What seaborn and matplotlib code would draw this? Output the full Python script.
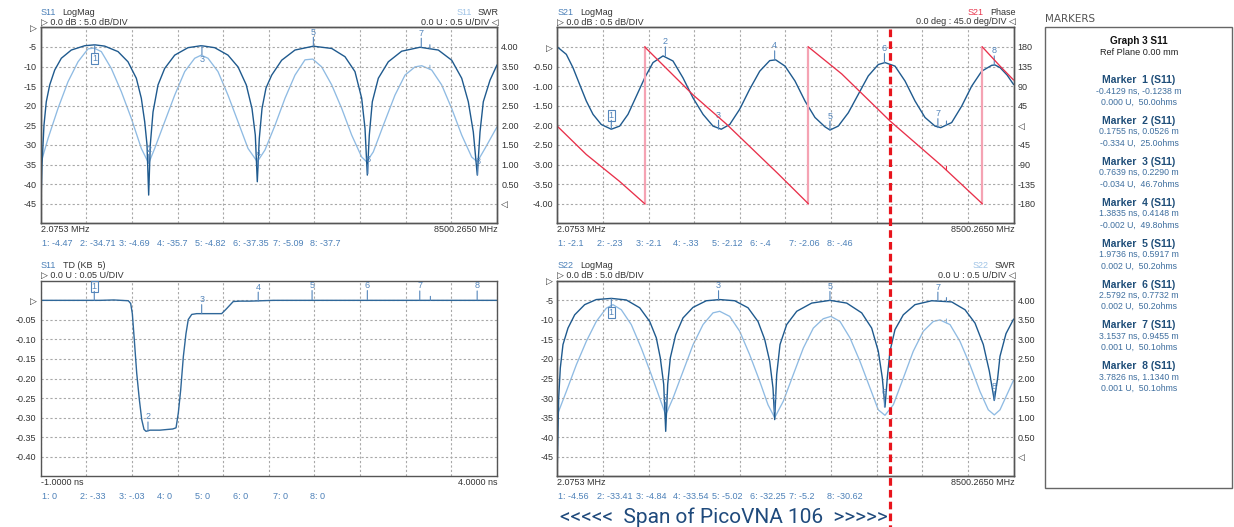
import matplotlib
matplotlib.use("Agg")
import matplotlib.pyplot as plt
import seaborn as sns
import numpy as np
from matplotlib import font_manager as fm
from matplotlib.lines import Line2D
from matplotlib.patches import Rectangle

# ------------------------------------------------------------------ data
F_START_MHZ = 2.0753
F_STOP_MHZ = 8500.265
T_START_NS = -1.0
T_STOP_NS = 4.0

# S11 LogMag (dB) – graph 1, dark trace
s11_logmag_f = [2, 26, 63, 106, 170, 263, 386, 572, 822, 1008, 1194, 1442, 1628, 1783, 1876,
                1939, 1982, 2013, 2043, 2094, 2187, 2311, 2498, 2745, 2993, 3243, 3490, 3677,
                3831, 3937, 3999, 4036, 4073, 4124, 4198, 4304, 4490, 4738, 5079, 5422, 5669,
                5855, 5980, 6042, 6085, 6122, 6178, 6290, 6476, 6725, 7066, 7407, 7657, 7843,
                7966, 8059, 8133, 8184, 8245, 8370, 8500]
s11_logmag_db = [-47.6, -35.2, -25.0, -19.0, -14.7, -10.9, -7.9, -5.8, -4.7, -4.47, -4.8, -6.2,
                 -8.8, -13.0, -18.1, -24.1, -30.0, -42.8, -30.0, -21.6, -14.7, -10.5, -7.1, -5.2,
                 -4.69, -5.2, -7.1, -10.1, -14.7, -20.7, -27.5, -39.4, -28.4, -20.7, -15.5, -12.2,
                 -8.4, -5.8, -4.82, -5.4, -7.5, -11.3, -18.1, -25.8, -37.7, -27.5, -19.0, -13.0,
                 -8.8, -6.1, -5.09, -5.8, -8.4, -13.0, -19.0, -26.7, -37.7, -26.7, -19.0, -13.5,
                 -9.6]
# S11 SWR – graph 1, light trace
s11_swr_f = [2, 138, 324, 510, 697, 883, 995, 1131, 1317, 1503, 1689, 1876, 2013, 2125, 2311,
             2498, 2684, 2870, 2993, 3118, 3304, 3490, 3677, 3863, 4036, 4179, 4366, 4552, 4738,
             4924, 5068, 5235, 5422, 5608, 5794, 5980, 6073, 6196, 6383, 6600, 6787, 6973, 7098,
             7284, 7470, 7656, 7843, 8029, 8133, 8277, 8500]
s11_swr = [1.02, 1.66, 2.43, 3.11, 3.62, 3.95, 3.97, 3.88, 3.45, 2.86, 2.18, 1.41, 1.03, 1.41,
           2.09, 2.77, 3.37, 3.71, 3.79, 3.71, 3.37, 2.77, 2.09, 1.41, 1.07, 1.37, 2.0, 2.69,
           3.28, 3.67, 3.69, 3.49, 3.03, 2.43, 1.75, 1.19, 1.07, 1.32, 2.0, 2.77, 3.28, 3.49,
           3.52, 3.41, 3.03, 2.43, 1.75, 1.19, 1.07, 1.41, 1.96]

# S21 LogMag (dB) – graph 2
s21_logmag_f = [2, 170, 294, 419, 542, 667, 821, 1008, 1164, 1319, 1473, 1630, 1784, 1971, 2157,
                2343, 2529, 2716, 2902, 3056, 3213, 3399, 3585, 3772, 3958, 4069, 4243, 4429,
                4615, 4801, 4988, 5081, 5235, 5422, 5608, 5794, 5980, 6105, 6291, 6478, 6664,
                6850, 7036, 7142, 7347, 7534, 7720, 7906, 8092, 8154, 8250, 8380, 8500]
s21_logmag_db = [0.0, -0.19, -0.53, -0.96, -1.38, -1.72, -1.98, -2.1, -2.02, -1.72, -1.26, -0.79,
                 -0.40, -0.23, -0.36, -0.79, -1.30, -1.72, -2.02, -2.1, -1.98, -1.59, -1.08,
                 -0.62, -0.35, -0.33, -0.49, -0.87, -1.38, -1.80, -2.04, -2.12, -2.02, -1.68,
                 -1.21, -0.74, -0.45, -0.40, -0.49, -0.87, -1.38, -1.80, -2.02, -2.06, -1.93,
                 -1.51, -1.0, -0.62, -0.47, -0.46, -0.53, -0.72, -0.96]
# S21 Phase (deg, wrapped) – graph 2
s21_phase_f = [2, 542, 853, 1164, 1630, 1630, 2529, 3150, 4112, 4677, 4677, 5299, 6198, 7161,
               7917, 7917, 8247, 8500]
s21_phase_deg = [-2, -67, -98, -129, -180, 180, 70, 3, -111, -180, 180, 118, 10, -93, -180, 180,
                 136, 104]

# S11 time domain (U) – graph 3
s11_td_ns = [-1.0, -0.6, -0.35, -0.2, -0.04, -0.014, 0.004, 0.026, 0.052, 0.081, 0.107, 0.132,
             0.154, 0.198, 0.307, 0.398, 0.446, 0.483, 0.508, 0.534, 0.563, 0.592, 0.617, 0.655,
             0.709, 0.764, 0.983, 1.038, 1.110, 1.184, 1.293, 1.55, 4.0]
s11_td_u = [0.0, 0.0, 0.0, 0.001, -0.001, -0.008, -0.034, -0.102, -0.186, -0.254, -0.305, -0.330,
            -0.335, -0.332, -0.332, -0.330, -0.329, -0.326, -0.288, -0.229, -0.144, -0.085,
            -0.049, -0.036, -0.034, -0.034, -0.034, -0.021, -0.003, -0.002, -0.002, 0.0, 0.0]

# S22 LogMag (dB) – graph 4, dark trace
s22_logmag_f = [2, 28, 58, 108, 201, 326, 512, 728, 1008, 1287, 1537, 1723, 1846, 1920, 1984,
                2021, 2058, 2107, 2207, 2343, 2529, 2777, 3027, 3306, 3554, 3740, 3865, 3958,
                4019, 4051, 4088, 4150, 4274, 4461, 4740, 5081, 5392, 5671, 5857, 5980, 6055,
                6105, 6148, 6198, 6291, 6446, 6664, 6975, 7347, 7595, 7781, 7936, 8048, 8141,
                8204, 8247, 8359, 8500]
s22_logmag_db = [-47.0, -29.9, -22.3, -16.3, -12.1, -8.7, -6.1, -4.8, -4.5, -4.9, -6.9, -10.4,
                 -14.6, -19.7, -26.5, -38.5, -26.5, -19.7, -13.8, -9.5, -6.8, -5.1, -4.8, -5.1,
                 -6.9, -10.4, -15.0, -20.6, -27.4, -35.5, -24.0, -16.3, -11.2, -7.8, -5.7, -5.0,
                 -5.7, -8.2, -12.1, -18.0, -24.8, -32.3, -24.8, -18.0, -12.5, -8.7, -6.1, -5.1,
                 -5.4, -7.4, -10.8, -16.3, -23.1, -30.6, -24.8, -19.3, -13.5, -9.8]
# S22 SWR – graph 4, light trace
s22_swr_f = [2, 170, 356, 542, 728, 915, 1039, 1194, 1380, 1566, 1753, 1909, 2021, 2157, 2343,
             2529, 2716, 2902, 3027, 3213, 3399, 3585, 3772, 3926, 4051, 4211, 4397, 4584, 4770,
             4956, 5099, 5267, 5453, 5639, 5826, 5980, 6105, 6260, 6446, 6632, 6818, 7005, 7129,
             7316, 7502, 7688, 7874, 8029, 8141, 8247, 8500]
s22_swr = [1.07, 1.67, 2.35, 2.95, 3.46, 3.80, 3.89, 3.76, 3.38, 2.78, 2.10, 1.50, 1.07, 1.50,
           2.18, 2.86, 3.38, 3.68, 3.72, 3.59, 3.21, 2.61, 1.93, 1.33, 1.0, 1.42, 2.10, 2.78,
           3.29, 3.53, 3.59, 3.46, 3.04, 2.44, 1.76, 1.20, 1.06, 1.33, 2.01, 2.70, 3.21, 3.46,
           3.50, 3.38, 2.95, 2.35, 1.67, 1.20, 1.07, 1.20, 1.96]

# markers
marker_mhz = [1008, 2015, 3005, 4050, 5080, 6095, 7090, 8140]
secondary_marker_mhz = 7250
secondary_marker_ns = 3.27
s11_marker_db = [-4.47, -34.71, -4.69, -35.7, -4.82, -37.35, -5.09, -37.7]
s21_marker_db = [-2.1, -0.23, -2.1, -0.33, -2.12, -0.4, -2.06, -0.46]
s22_marker_db = [-4.56, -33.41, -4.84, -33.54, -5.02, -32.25, -5.2, -30.62]
marker_ns = [-0.4129, 0.1755, 0.7639, 1.3835, 1.9736, 2.5792, 3.1537, 3.7826]
marker_m = [-0.1238, 0.0526, 0.2290, 0.4148, 0.5917, 0.7732, 0.9455, 1.1340]
marker_u = [0.000, -0.334, -0.034, -0.002, 0.002, 0.002, 0.001, 0.001]
marker_ohms = [50.0, 25.0, 46.7, 49.8, 50.2, 50.2, 50.1, 50.1]

span_end_mhz = 6198  # red dashed line: end of PicoVNA 106 span

# ------------------------------------------------------------------ style
sns.set_style("white")
names = {f.name for f in fm.fontManager.ttflist}
NARROW = "Liberation Sans Narrow" in names
UI_FAMILY = ["Liberation Sans Narrow" if NARROW else "Liberation Sans", "DejaVu Sans"]
UI_SIZE = 7.0 if NARROW else 6.5
plt.rcParams["font.family"] = UI_FAMILY
plt.rcParams["lines.scale_dashes"] = False

DARK = "#1f5a8e"
LIGHT = "#8fbbe3"
TD_COL = "#2f6799"
RED = "#e8304a"
PINK = "#f5a3b3"
GRID = "#a8a8a8"
FRAME = "#555555"
TEXT_DARK = "#333333"
LABEL_BLUE = "#4c80b8"
LIGHT_LABEL = "#9fc3e6"
RED_LABEL = "#e8384f"
MARK_COL = "#5586bb"

W, H = 1234, 527
fig = plt.figure(figsize=(W / 100, H / 100), dpi=100)
fig.patch.set_facecolor("white")
renderer = fig.canvas.get_renderer()

BOX1 = (40.7, 27.3, 497.0, 223.3)
BOX2 = (557.3, 27.3, 1013.6, 223.3)
BOX3 = (40.7, 280.8, 497.0, 476.3)
BOX4 = (557.3, 280.8, 1013.6, 476.3)


def rect(box):
    l, t, r, b = box
    return [l / W, 1 - b / H, (r - l) / W, (b - t) / H]


def style_ax(ax, xlim, xticks, ylim, yticks, ylabels, grid=True):
    ax.set_xlim(xlim)
    ax.set_ylim(ylim)
    ax.set_xticks(xticks)
    ax.set_xticklabels([])
    ax.set_yticks(yticks)
    ax.set_yticklabels(ylabels)
    ax.tick_params(axis="both", length=0, pad=3, labelsize=UI_SIZE, colors=TEXT_DARK)
    if grid:
        ax.grid(True, color=GRID, linestyle=(0, (1.6, 1.6)), linewidth=0.8)
    else:
        ax.grid(False)
    for s in ax.spines.values():
        s.set_visible(True)
        s.set_color(FRAME)
        s.set_linewidth(1.0)
    ax.set_xlabel("")
    ax.set_ylabel("")


def line(ax, x, y, color, lw=1.0, z=2):
    sns.lineplot(x=list(x), y=list(y), ax=ax, color=color, linewidth=lw,
                 estimator=None, sort=False, zorder=z)
    ax.set_xlabel("")
    ax.set_ylabel("")


def mark(ax, xs, ys, sides, color=MARK_COL):
    for i, (x, y, s) in enumerate(zip(xs, ys, sides)):
        sg = 1 if s == "u" else -1
        ax.annotate("", xy=(x, y), xytext=(0, 9 * sg), textcoords="offset pixels",
                    arrowprops=dict(arrowstyle="-", color=color, lw=0.8, shrinkA=0, shrinkB=0),
                    annotation_clip=False, zorder=5)
        kw = {}
        if i == 0:
            kw["bbox"] = dict(boxstyle="square,pad=0.1", fc="none", ec=color, lw=0.8)
        ax.annotate(str(i + 1), xy=(x, y), xytext=(0, 14 * sg), textcoords="offset pixels",
                    ha="center", va="center", fontsize=UI_SIZE, color=color,
                    annotation_clip=False, zorder=5, **kw)


def small_tick(ax, xs, ys, x0, color):
    y0 = float(np.interp(x0, xs, ys))
    ax.annotate("", xy=(x0, y0), xytext=(0, 4), textcoords="offset pixels",
                arrowprops=dict(arrowstyle="-", color=color, lw=0.8, shrinkA=0, shrinkB=0),
                zorder=5)


def text_px(x, y, s, color=TEXT_DARK, ha="left", size=None, **kw):
    return fig.text(x / W, 1 - y / H, s, ha=ha, va="center",
                    fontsize=UI_SIZE if size is None else size, color=color, **kw)


def chain_left(x, y, parts, gap=6.5):
    for s, c in parts:
        t = text_px(x, y, s, c)
        x = t.get_window_extent(renderer).x1 + gap


def chain_right(x, y, parts, gap=6.5):
    for s, c in reversed(parts):
        t = text_px(x, y, s, c, ha="right")
        x = t.get_window_extent(renderer).x0 - gap


def fmt(v):
    if round(v, 2) == 0:
        return "0"
    s = f"{v:.2f}".rstrip("0").rstrip(".")
    s = s.replace("-0.", "-.")
    if s.startswith("0."):
        s = s[1:]
    return s


READOUT_DX = [1, 39.3, 78.3, 116, 154.3, 192.6, 232, 269.3]


def panel_texts(box, left1, left2, right1, right2, x_left, x_right, readouts):
    l, t, r, b = box
    chain_left(l, t - 14.8, left1)
    text_px(l, t - 5.4, left2)
    if right1:
        chain_right(r + 2, t - 14.8, right1)
        text_px(r + 2, t - 5.4, right2, ha="right")
    text_px(l, b + 5.8, x_left)
    text_px(r + 1, b + 5.8, x_right, ha="right")
    for i, v in enumerate(readouts):
        text_px(l + READOUT_DX[i], b + 20, f"{i + 1}: {fmt(v)}", LABEL_BLUE)


f_ticks = np.linspace(F_START_MHZ, F_STOP_MHZ, 11)
f_lim = (F_START_MHZ, F_STOP_MHZ)
db_ticks = list(range(-45, 1, 5))
db_labels = [str(v) for v in db_ticks[:-1]] + ["\u25b7"]
swr_ticks = [i * 0.5 for i in range(9)]
swr_labels = ["\u25c1"] + [f"{v:.2f}" for v in swr_ticks[1:]]

# ------------------------------------------------------------------ graph 1 : S11 LogMag / SWR
ax1 = fig.add_axes(rect(BOX1))
ax1r = ax1.twinx()
ax1.set_zorder(ax1r.get_zorder() + 1)
ax1.patch.set_visible(False)
line(ax1r, s11_swr_f, s11_swr, LIGHT, 0.95)
line(ax1, s11_logmag_f, s11_logmag_db, DARK)
style_ax(ax1, f_lim, f_ticks, (-50, 0), db_ticks, db_labels)
style_ax(ax1r, f_lim, f_ticks, (-0.5, 4.5), swr_ticks, swr_labels, grid=False)
mark(ax1, marker_mhz, s11_marker_db, ["d", "u", "d", "u", "u", "u", "u", "u"])
small_tick(ax1, s11_logmag_f, s11_logmag_db, secondary_marker_mhz, MARK_COL)
small_tick(ax1r, s11_swr_f, s11_swr, secondary_marker_mhz, LIGHT)
panel_texts(BOX1, [("S11", LABEL_BLUE), ("LogMag", TEXT_DARK)], "\u25b7 0.0 dB : 5.0 dB/DIV",
            [("S11", LIGHT_LABEL), ("SWR", TEXT_DARK)], "0.0 U : 0.5 U/DIV \u25c1",
            "2.0753 MHz", "8500.2650 MHz", s11_marker_db)

# ------------------------------------------------------------------ graph 2 : S21 LogMag / Phase
ax2 = fig.add_axes(rect(BOX2))
ax2r = ax2.twinx()
line(ax2, s21_logmag_f, s21_logmag_db, DARK)
ph_f = np.array(s21_phase_f, dtype=float)
ph = np.array(s21_phase_deg, dtype=float)
breaks = np.where(np.abs(np.diff(ph)) > 180)[0]
starts = [0] + list(breaks + 1)
ends = list(breaks + 1) + [len(ph)]
for s_, e_ in zip(starts, ends):
    line(ax2r, ph_f[s_:e_], ph[s_:e_], RED, 0.95)
for bi in breaks:
    line(ax2r, ph_f[bi:bi + 2], ph[bi:bi + 2], PINK, 1.6, z=1)
s21_ticks = [v * 0.5 for v in range(-8, 1)]
s21_labels = [f"{v:.2f}" for v in s21_ticks[:-1]] + ["\u25b7"]
ph_ticks = list(range(-180, 181, 45))
ph_labels = [("\u25c1" if v == 0 else str(v)) for v in ph_ticks]
style_ax(ax2, f_lim, f_ticks, (-4.5, 0.5), s21_ticks, s21_labels)
style_ax(ax2r, f_lim, f_ticks, (-225, 225), ph_ticks, ph_labels, grid=False)
mark(ax2, marker_mhz, s21_marker_db, ["u"] * 8)
small_tick(ax2, s21_logmag_f, s21_logmag_db, secondary_marker_mhz, MARK_COL)
small_tick(ax2r, s21_phase_f[10:15], s21_phase_deg[10:15], secondary_marker_mhz, RED)
panel_texts(BOX2, [("S21", LABEL_BLUE), ("LogMag", TEXT_DARK)], "\u25b7 0.0 dB : 0.5 dB/DIV",
            [("S21", RED_LABEL), ("Phase", TEXT_DARK)], "0.0 deg : 45.0 deg/DIV \u25c1",
            "2.0753 MHz", "8500.2650 MHz", s21_marker_db)

# ------------------------------------------------------------------ graph 3 : S11 TD
ax3 = fig.add_axes(rect(BOX3))
line(ax3, s11_td_ns, s11_td_u, TD_COL)
td_ticks = [round(-0.40 + 0.05 * i, 2) for i in range(9)]
td_labels = [f"{v:.2f}" for v in td_ticks[:-1]] + ["\u25b7"]
style_ax(ax3, (T_START_NS, T_STOP_NS), np.linspace(T_START_NS, T_STOP_NS, 11),
         (-0.45, 0.05), td_ticks, td_labels)
mark(ax3, marker_ns, marker_u, ["u"] * 8)
small_tick(ax3, s11_td_ns, s11_td_u, secondary_marker_ns, MARK_COL)
panel_texts(BOX3, [("S11", LABEL_BLUE), ("TD (KB  5)", TEXT_DARK)], "\u25b7 0.0 U : 0.05 U/DIV",
            None, None, "-1.0000 ns", "4.0000 ns", marker_u)

# ------------------------------------------------------------------ graph 4 : S22 LogMag / SWR
ax4 = fig.add_axes(rect(BOX4))
ax4r = ax4.twinx()
ax4.set_zorder(ax4r.get_zorder() + 1)
ax4.patch.set_visible(False)
line(ax4r, s22_swr_f, s22_swr, LIGHT, 0.95)
line(ax4, s22_logmag_f, s22_logmag_db, DARK)
style_ax(ax4, f_lim, f_ticks, (-50, 0), db_ticks, db_labels)
style_ax(ax4r, f_lim, f_ticks, (-0.5, 4.5), swr_ticks, swr_labels, grid=False)
mark(ax4, marker_mhz, s22_marker_db, ["d", "u", "u", "u", "u", "u", "u", "u"])
small_tick(ax4, s22_logmag_f, s22_logmag_db, secondary_marker_mhz, MARK_COL)
small_tick(ax4r, s22_swr_f, s22_swr, secondary_marker_mhz, LIGHT)
panel_texts(BOX4, [("S22", LABEL_BLUE), ("LogMag", TEXT_DARK)], "\u25b7 0.0 dB : 5.0 dB/DIV",
            [("S22", LIGHT_LABEL), ("SWR", TEXT_DARK)], "0.0 U : 0.5 U/DIV \u25c1",
            "2.0753 MHz", "8500.2650 MHz", s22_marker_db)

# ------------------------------------------------------------------ span line and caption
disp = ax2.transData.transform((span_end_mhz, 0))
fx_span = fig.transFigure.inverted().transform(disp)[0]
fig.add_artist(Line2D([fx_span, fx_span], [1 - 29 / H, 0.0], transform=fig.transFigure,
                      color="#e8141c", linewidth=2.3, linestyle=(0, (5.5, 3.0)), zorder=10))
fig.text(724 / W, 1 - 517 / H, "<<<<<  Span of PicoVNA 106  >>>>>", ha="center", va="center",
         fontsize=15, family=["Roboto", "DejaVu Sans"], color="#1f4a7c")

# ------------------------------------------------------------------ markers panel
fig.text(1045 / W, 1 - 19 / H, "MARKERS", ha="left", va="center", fontsize=7.5,
         family=["DejaVu Sans"], color="#555555")
fig.add_artist(Rectangle((1045 / W, 1 - 488 / H), (1232 - 1045) / W, (488 - 27.3) / H,
                         transform=fig.transFigure, fill=False, ec="#666666", lw=1.0))
CX = 1139
PANEL_FAM = ["Liberation Sans", "DejaVu Sans"]
text_px(CX, 40.7, "Graph 3 S11", "#111111", ha="center", size=7.2, fontweight="bold",
        family=PANEL_FAM)
text_px(CX, 52.3, "Ref Plane 0.00 mm", "#222222", ha="center", size=6.6, family=PANEL_FAM)
for i in range(8):
    y0 = 80 + i * 40.9
    text_px(CX, y0, f"Marker  {i + 1} (S11)", "#1f4e79", ha="center", size=7.5,
            fontweight="bold", family=PANEL_FAM)
    text_px(CX, y0 + 10.9, f"{marker_ns[i]:.4f} ns, {marker_m[i]:.4f} m", "#3f6f9f",
            ha="center", size=6.3, family=PANEL_FAM)
    text_px(CX, y0 + 22.3, f"{marker_u[i]:.3f} U,  {marker_ohms[i]:.1f}ohms", "#3f6f9f",
            ha="center", size=6.3, family=PANEL_FAM)

fig.savefig("out.png", dpi=100, facecolor="white")
